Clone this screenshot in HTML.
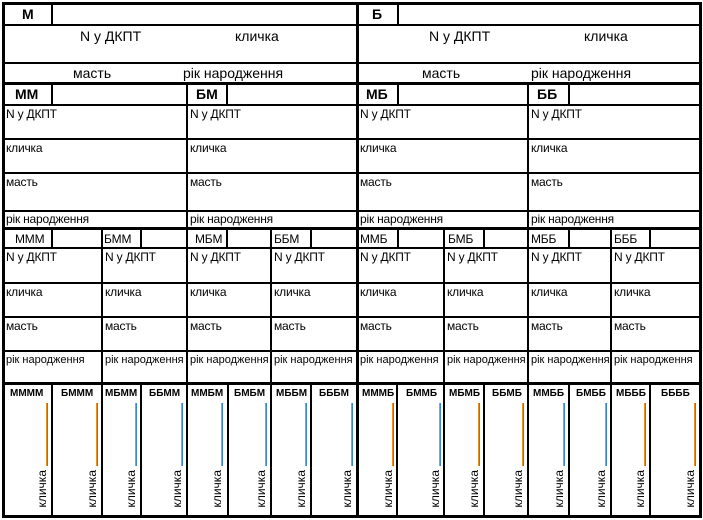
<!DOCTYPE html>
<html><head><meta charset="utf-8"><style>
body{margin:0;background:#fff;}
#c{position:relative;width:703px;height:520px;overflow:hidden;font-family:"Liberation Sans",Arial,sans-serif;color:#000;}
.h,.v{position:absolute;background:#000;}
.t{position:absolute;white-space:nowrap;line-height:1;}
.b{font-weight:bold;}
.s{font-size:12px;letter-spacing:-0.2px;}
.m{font-size:14px;}
.k{position:absolute;font-size:12px;writing-mode:vertical-rl;transform:rotate(180deg);line-height:1;white-space:nowrap;}
.ln{position:absolute;width:1px;height:63px;top:403px;background:#f0901c;border-right:1px solid #3a86d0;}
.g4{position:absolute;top:389px;font-size:10px;font-weight:bold;white-space:nowrap;line-height:1;}
</style></head><body><div id="c">
<!-- horizontals -->
<div class="h" style="left:2px;top:2px;width:700px;height:3px"></div>
<div class="h" style="left:2px;top:24px;width:700px;height:2px"></div>
<div class="h" style="left:2px;top:62px;width:700px;height:2px"></div>
<div class="h" style="left:2px;top:82px;width:700px;height:3px"></div>
<div class="h" style="left:2px;top:104px;width:700px;height:2px"></div>
<div class="h" style="left:2px;top:138px;width:700px;height:2px"></div>
<div class="h" style="left:2px;top:172px;width:700px;height:2px"></div>
<div class="h" style="left:2px;top:210px;width:700px;height:2px"></div>
<div class="h" style="left:2px;top:227px;width:700px;height:3px"></div>
<div class="h" style="left:2px;top:247px;width:700px;height:2px"></div>
<div class="h" style="left:2px;top:282px;width:700px;height:2px"></div>
<div class="h" style="left:2px;top:316px;width:700px;height:2px"></div>
<div class="h" style="left:2px;top:350px;width:700px;height:2px"></div>
<div class="h" style="left:2px;top:382px;width:700px;height:3px"></div>
<div class="h" style="left:2px;top:515px;width:700px;height:3px"></div>
<!-- verticals full -->
<div class="v" style="left:2px;top:2px;width:3px;height:516px"></div>
<div class="v" style="left:699px;top:2px;width:3px;height:516px"></div>
<div class="v" style="left:356px;top:2px;width:3px;height:516px"></div>
<div class="v" style="left:186px;top:82px;width:2px;height:436px"></div>
<div class="v" style="left:527px;top:82px;width:2px;height:436px"></div>
<div class="v" style="left:101px;top:227px;width:2px;height:291px"></div>
<div class="v" style="left:270px;top:227px;width:2px;height:291px"></div>
<div class="v" style="left:443px;top:227px;width:2px;height:291px"></div>
<div class="v" style="left:610px;top:227px;width:2px;height:291px"></div>
<div class="v" style="left:51px;top:382px;width:2px;height:136px"></div>
<div class="v" style="left:140px;top:382px;width:2px;height:136px"></div>
<div class="v" style="left:227px;top:382px;width:2px;height:136px"></div>
<div class="v" style="left:310px;top:382px;width:2px;height:136px"></div>
<div class="v" style="left:396px;top:382px;width:2px;height:136px"></div>
<div class="v" style="left:483px;top:382px;width:2px;height:136px"></div>
<div class="v" style="left:568px;top:382px;width:2px;height:136px"></div>
<div class="v" style="left:649px;top:382px;width:2px;height:136px"></div>
<!-- label box edges -->
<div class="v" style="left:51px;top:2px;width:2px;height:23px"></div>
<div class="v" style="left:397px;top:2px;width:2px;height:23px"></div>
<div class="v" style="left:51px;top:82px;width:2px;height:23px"></div>
<div class="v" style="left:226px;top:82px;width:2px;height:23px"></div>
<div class="v" style="left:397px;top:82px;width:2px;height:23px"></div>
<div class="v" style="left:568px;top:82px;width:2px;height:23px"></div>
<div class="v" style="left:51px;top:227px;width:2px;height:21px"></div>
<div class="v" style="left:140px;top:227px;width:2px;height:21px"></div>
<div class="v" style="left:226px;top:227px;width:2px;height:21px"></div>
<div class="v" style="left:310px;top:227px;width:2px;height:21px"></div>
<div class="v" style="left:397px;top:227px;width:2px;height:21px"></div>
<div class="v" style="left:483px;top:227px;width:2px;height:21px"></div>
<div class="v" style="left:568px;top:227px;width:2px;height:21px"></div>
<div class="v" style="left:649px;top:227px;width:2px;height:21px"></div>
<!-- gen1 -->
<div class="t m b" style="left:22px;top:7px">М</div>
<div class="t m b" style="left:372px;top:7px">Б</div>
<div class="t m" style="left:80px;top:29px">N у ДКПТ</div>
<div class="t m" style="left:235px;top:29px">кличка</div>
<div class="t m" style="left:73px;top:66px">масть</div>
<div class="t m" style="left:183px;top:66px">рік народження</div>
<div class="t m" style="left:429px;top:29px">N у ДКПТ</div>
<div class="t m" style="left:584px;top:29px">кличка</div>
<div class="t m" style="left:422px;top:66px">масть</div>
<div class="t m" style="left:531px;top:66px">рік народження</div>
<!-- gen2 -->
<div class="t m b" style="left:15px;top:87px">ММ</div>
<div class="t m b" style="left:196px;top:87px">БМ</div>
<div class="t m b" style="left:366px;top:87px">МБ</div>
<div class="t m b" style="left:537px;top:87px">ББ</div>
<div class="t s" style="left:6px;top:108px">N у ДКПТ</div>
<div class="t s" style="left:6px;top:142px">кличка</div>
<div class="t s" style="left:6px;top:176px">масть</div>
<div class="t s" style="left:6px;top:213px">рік народження</div>
<div class="t s" style="left:190px;top:108px">N у ДКПТ</div>
<div class="t s" style="left:190px;top:142px">кличка</div>
<div class="t s" style="left:190px;top:176px">масть</div>
<div class="t s" style="left:190px;top:213px">рік народження</div>
<div class="t s" style="left:360px;top:108px">N у ДКПТ</div>
<div class="t s" style="left:360px;top:142px">кличка</div>
<div class="t s" style="left:360px;top:176px">масть</div>
<div class="t s" style="left:360px;top:213px">рік народження</div>
<div class="t s" style="left:531px;top:108px">N у ДКПТ</div>
<div class="t s" style="left:531px;top:142px">кличка</div>
<div class="t s" style="left:531px;top:176px">масть</div>
<div class="t s" style="left:531px;top:213px">рік народження</div>
<!-- gen3 -->
<div class="t s" style="left:15px;top:233px">МММ</div>
<div class="t s" style="left:104px;top:233px">БММ</div>
<div class="t s" style="left:195px;top:233px">МБМ</div>
<div class="t s" style="left:274px;top:233px">ББМ</div>
<div class="t s" style="left:360px;top:233px">ММБ</div>
<div class="t s" style="left:448px;top:233px">БМБ</div>
<div class="t s" style="left:531px;top:233px">МББ</div>
<div class="t s" style="left:614px;top:233px">БББ</div>

<div class="t s" style="left:6px;top:251px">N у ДКПТ</div><div class="t s" style="left:6px;top:286px">кличка</div><div class="t s" style="left:6px;top:320px">масть</div><div class="t" style="font-size:11px;left:6px;top:355px">рік народження</div>
<div class="t s" style="left:105px;top:251px">N у ДКПТ</div><div class="t s" style="left:105px;top:286px">кличка</div><div class="t s" style="left:105px;top:320px">масть</div><div class="t" style="font-size:11px;left:105px;top:355px">рік народження</div>
<div class="t s" style="left:190px;top:251px">N у ДКПТ</div><div class="t s" style="left:190px;top:286px">кличка</div><div class="t s" style="left:190px;top:320px">масть</div><div class="t" style="font-size:11px;left:190px;top:355px">рік народження</div>
<div class="t s" style="left:274px;top:251px">N у ДКПТ</div><div class="t s" style="left:274px;top:286px">кличка</div><div class="t s" style="left:274px;top:320px">масть</div><div class="t" style="font-size:11px;left:274px;top:355px">рік народження</div>
<div class="t s" style="left:360px;top:251px">N у ДКПТ</div><div class="t s" style="left:360px;top:286px">кличка</div><div class="t s" style="left:360px;top:320px">масть</div><div class="t" style="font-size:11px;left:360px;top:355px">рік народження</div>
<div class="t s" style="left:447px;top:251px">N у ДКПТ</div><div class="t s" style="left:447px;top:286px">кличка</div><div class="t s" style="left:447px;top:320px">масть</div><div class="t" style="font-size:11px;left:447px;top:355px">рік народження</div>
<div class="t s" style="left:531px;top:251px">N у ДКПТ</div><div class="t s" style="left:531px;top:286px">кличка</div><div class="t s" style="left:531px;top:320px">масть</div><div class="t" style="font-size:11px;left:531px;top:355px">рік народження</div>
<div class="t s" style="left:614px;top:251px">N у ДКПТ</div><div class="t s" style="left:614px;top:286px">кличка</div><div class="t s" style="left:614px;top:320px">масть</div><div class="t" style="font-size:11px;left:614px;top:355px">рік народження</div>
<!-- gen4 -->
<div class="g4" style="left:10px">ММММ</div><div class="ln" style="left:46px"></div><div class="k" style="left:36px;top:470px">кличка</div>
<div class="g4" style="left:61px">БМММ</div><div class="ln" style="left:96px"></div><div class="k" style="left:86px;top:470px">кличка</div>
<div class="g4" style="left:105px">МБММ</div><div class="ln" style="left:135px"></div><div class="k" style="left:125px;top:470px">кличка</div>
<div class="g4" style="left:149px">ББММ</div><div class="ln" style="left:181px"></div><div class="k" style="left:171px;top:470px">кличка</div>
<div class="g4" style="left:191px">ММБМ</div><div class="ln" style="left:221px"></div><div class="k" style="left:211px;top:470px">кличка</div>
<div class="g4" style="left:234px">БМБМ</div><div class="ln" style="left:265px"></div><div class="k" style="left:255px;top:470px">кличка</div>
<div class="g4" style="left:276px">МББМ</div><div class="ln" style="left:305px"></div><div class="k" style="left:295px;top:470px">кличка</div>
<div class="g4" style="left:319px">БББМ</div><div class="ln" style="left:351px"></div><div class="k" style="left:341px;top:470px">кличка</div>
<div class="g4" style="left:362px">ММMБ</div><div class="ln" style="left:392px"></div><div class="k" style="left:382px;top:470px">кличка</div>
<div class="g4" style="left:406px">БММБ</div><div class="ln" style="left:439px"></div><div class="k" style="left:429px;top:470px">кличка</div>
<div class="g4" style="left:449px">МБМБ</div><div class="ln" style="left:478px"></div><div class="k" style="left:468px;top:470px">кличка</div>
<div class="g4" style="left:492px">ББМБ</div><div class="ln" style="left:522px"></div><div class="k" style="left:512px;top:470px">кличка</div>
<div class="g4" style="left:533px">ММББ</div><div class="ln" style="left:563px"></div><div class="k" style="left:553px;top:470px">кличка</div>
<div class="g4" style="left:576px">БМББ</div><div class="ln" style="left:605px"></div><div class="k" style="left:595px;top:470px">кличка</div>
<div class="g4" style="left:616px">МБББ</div><div class="ln" style="left:644px"></div><div class="k" style="left:634px;top:470px">кличка</div>
<div class="g4" style="left:661px">ББББ</div><div class="ln" style="left:694px"></div><div class="k" style="left:684px;top:470px">кличка</div>
</div></body></html>
